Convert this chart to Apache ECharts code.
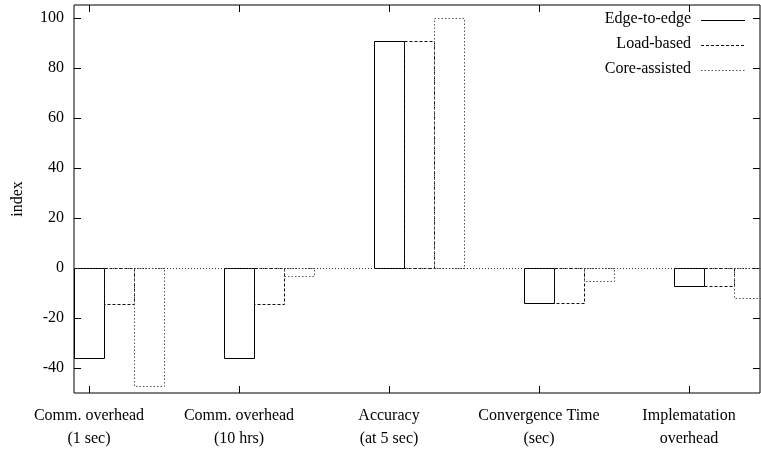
<!DOCTYPE html>
<html>
<head>
<meta charset="utf-8">
<script src="https://cdn.jsdelivr.net/npm/echarts@6/dist/echarts.min.js"></script>
<style>html,body{margin:0;padding:0;background:#fff}#c{width:761px;height:453px}</style>
</head>
<body>
<div id="c"></div>
<script>
const categories = ['Comm. overhead\n(1 sec)', 'Comm. overhead\n(10 hrs)', 'Accuracy\n(at 5 sec)', 'Convergence Time\n(sec)', 'Implematation\noverhead'];
const seriesNames = ['Edge-to-edge', 'Load-based', 'Core-assisted'];
const edgeToEdge = [-36, -36, 91, -14, -7];
const loadBased = [-14.5, -14.5, 91, -14, -7];
const coreAssisted = [-47, -3, 100, -5, -12];
const yTicks = [-40, -20, 0, 20, 40, 60, 80, 100];

const FONT = 'Liberation Serif';
const styles = [
  { stroke: '#000', lineDash: null },
  { stroke: '#111', lineDash: [3, 2] },
  { stroke: '#555', lineDash: [1.5, 2] }
];
const values = [edgeToEdge, loadBased, coreAssisted];
const catIdx = categories.map((_, i) => i);
const BAR_W = 0.2;

function makeRender(k) {
  return function (params, api) {
    const i = api.value(0), v = api.value(1);
    const off = k * BAR_W;
    const a = api.coord([i + off - BAR_W / 2, 0]);
    const b = api.coord([i + off + BAR_W / 2, v]);
    const x0 = Math.round(Math.min(a[0], b[0])) + 0.5;
    const x1 = Math.round(Math.max(a[0], b[0])) + 0.5;
    const y0 = Math.round(Math.min(a[1], b[1])) + 0.5;
    const y1 = Math.round(Math.max(a[1], b[1])) + 0.5;
    return {
      type: 'rect',
      shape: { x: x0, y: y0, width: x1 - x0, height: y1 - y0 },
      style: { fill: 'none', stroke: styles[k].stroke, lineWidth: 1, lineDash: styles[k].lineDash }
    };
  };
}

const series = seriesNames.map((name, k) => ({
  name: name,
  type: 'custom',
  xAxisIndex: 0,
  yAxisIndex: 0,
  renderItem: makeRender(k),
  data: catIdx.map(i => [i, values[k][i]]),
  z: 3
}));
series[0].markLine = {
  silent: true,
  symbol: 'none',
  label: { show: false },
  lineStyle: { color: '#333', type: [1, 2], width: 1 },
  data: [{ yAxis: 0 }]
};

const XMIN = -0.1, XMAX = 4.4733, YMIN = -50, YMAX = 105.2;
const tickStyle = { show: true, inside: true, length: 7, lineStyle: { color: '#000', width: 1 } };
const noLine = { show: false, onZero: false };

const legendGraphics = [];
seriesNames.forEach((name, k) => {
  const y = 20 + k * 25;
  legendGraphics.push({
    type: 'text', right: 761 - 691, top: y - 9,
    style: { text: name, font: '16px "' + FONT + '"', fill: '#000', textAlign: 'right' }
  });
  legendGraphics.push({
    type: 'line', shape: { x1: 701, y1: y + 0.5, x2: 745, y2: y + 0.5 },
    style: { stroke: styles[k].stroke, lineWidth: 1, lineDash: styles[k].lineDash }
  });
});

const chart = echarts.init(document.getElementById('c'), null, { renderer: 'canvas' });
chart.setOption({
  animation: false,
  backgroundColor: '#fff',
  textStyle: { fontFamily: FONT },
  grid: { left: 74, right: 1, top: 5, bottom: 60, show: true, borderColor: '#000', borderWidth: 1, backgroundColor: 'transparent' },
  xAxis: [
    {
      type: 'value', min: XMIN, max: XMAX, position: 'bottom',
      axisLine: noLine, splitLine: { show: false },
      axisTick: Object.assign({ customValues: catIdx }, tickStyle),
      axisLabel: {
        customValues: catIdx, margin: 11, color: '#000', fontSize: 16, fontFamily: FONT, lineHeight: 23,
        formatter: v => categories[Math.round(v)] || ''
      }
    },
    {
      type: 'value', min: XMIN, max: XMAX, position: 'top',
      axisLine: noLine, splitLine: { show: false },
      axisTick: Object.assign({ customValues: catIdx }, tickStyle),
      axisLabel: { show: false }
    }
  ],
  yAxis: [
    {
      type: 'value', min: YMIN, max: YMAX, position: 'left',
      name: 'index', nameLocation: 'middle', nameGap: 48, nameRotate: 90,
      nameTextStyle: { fontSize: 16, fontFamily: FONT, color: '#000' },
      axisLine: noLine, splitLine: { show: false },
      axisTick: Object.assign({ customValues: yTicks }, tickStyle),
      axisLabel: { customValues: yTicks, margin: 10, color: '#000', fontSize: 16, fontFamily: FONT }
    },
    {
      type: 'value', min: YMIN, max: YMAX, position: 'right',
      axisLine: noLine, splitLine: { show: false },
      axisTick: Object.assign({ customValues: yTicks }, tickStyle),
      axisLabel: { show: false }
    }
  ],
  series: series,
  graphic: legendGraphics
});
</script>
</body>
</html>
